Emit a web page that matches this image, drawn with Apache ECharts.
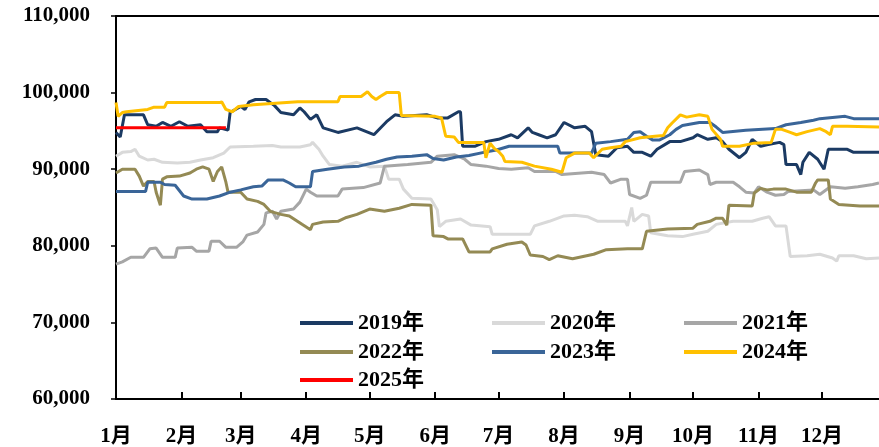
<!DOCTYPE html>
<html>
<head>
<meta charset="utf-8">
<script src="https://cdn.jsdelivr.net/npm/echarts@6/dist/echarts.min.js"></script>
<style>
  html, body { margin: 0; padding: 0; background: #fff; }
  #chart { width: 879px; height: 447px; }
</style>
</head>
<body>
<div id="chart"></div>
<script>
// Month labels and the day-of-year each month starts on
const monthLabels = ['1月','2月','3月','4月','5月','6月','7月','8月','9月','10月','11月','12月'];
const monthStarts = [0, 31, 59, 90, 120, 151, 181, 212, 243, 273, 304, 334];

// Y axis range and step
const yMin = 60000, yMax = 110000, yStep = 10000;

// Daily price series, [day of year, price]
const s2019 = [[0,94800],[2,94200],[4,97100],[13,97100],[15,95800],[19,95600],[22,96100],[26,95600],[30,96200],[34,95600],[40,95800],[43,94900],[48,94900],[49,95400],[53,95100],[54,97400],[59,98200],[61,97800],[63,98800],[66,99100],[71,99100],[75,98300],[78,97400],[84,97100],[87,98000],[89,97500],[92,96500],[95,97100],[98,95400],[105,94800],[114,95400],[122,94500],[128,96200],[132,97100],[136,96900],[147,97100],[152,96700],[157,96700],[162,97500],[163,97500],[164,93000],[170,93000],[175,93600],[181,93900],[187,94500],[190,94100],[195,95400],[197,94800],[200,94500],[204,94100],[208,94500],[212,96100],[217,95400],[222,95600],[225,94900],[227,91900],[233,91700],[237,92800],[242,93000],[245,92200],[249,92200],[253,91700],[256,92600],[262,93600],[267,93600],[273,94100],[275,94500],[280,93900],[284,94100],[287,93600],[290,92600],[295,91500],[298,92200],[301,93900],[305,93000],[308,93200],[314,93500],[316,93200],[317,90600],[322,90600],[324,89300],[325,90900],[328,92200],[332,91300],[335,90000],[337,92600],[346,92600],[349,92200],[361,92200]];

const s2020 = [[0,91700],[3,92200],[7,92300],[9,92600],[11,91700],[15,91200],[18,91300],[22,90900],[29,90800],[35,90900],[40,91200],[46,91500],[51,92100],[54,92900],[65,93000],[74,93100],[78,92900],[87,92900],[92,93200],[93,93500],[96,92600],[98,91700],[101,90600],[107,90400],[114,90900],[120,90300],[127,90400],[129,88700],[134,88700],[136,87400],[140,86200],[149,86100],[152,84700],[153,82500],[156,83200],[163,83500],[168,82700],[177,82500],[178,81500],[196,81500],[198,82600],[205,83200],[212,83900],[217,84000],[223,83800],[228,83200],[241,83200],[242,82600],[244,85000],[245,83200],[249,84100],[252,83900],[253,81700],[261,81300],[268,81200],[273,81500],[280,81900],[284,82800],[292,83200],[301,83200],[306,83600],[309,83800],[312,82600],[317,82600],[319,78600],[327,78700],[333,78900],[339,78400],[341,78000],[342,78700],[349,78700],[355,78300],[361,78400]];

const s2021 = [[0,77600],[3,77900],[7,78500],[13,78500],[16,79600],[19,79700],[22,78500],[28,78500],[29,79700],[36,79800],[38,79300],[44,79300],[45,80600],[49,80600],[52,79800],[57,79800],[60,80500],[62,81400],[67,81800],[70,82800],[71,84300],[74,84500],[76,83500],[78,84500],[84,84800],[87,85700],[90,87400],[92,87000],[95,86500],[105,86500],[107,87400],[117,87600],[125,88200],[127,90400],[138,90600],[149,90900],[152,91700],[160,91900],[165,91300],[168,90600],[175,90400],[181,90100],[187,90000],[195,90200],[198,89700],[208,89700],[211,89300],[225,89600],[231,89300],[234,88200],[239,88700],[242,88700],[243,86700],[248,86200],[251,86600],[253,88300],[267,88300],[269,89700],[276,89900],[280,89300],[281,88000],[284,88300],[292,88300],[295,87700],[298,87000],[302,86900],[304,87700],[308,87000],[312,86600],[316,86700],[318,87100],[330,87300],[333,86700],[338,87700],[345,87500],[351,87700],[358,88000],[361,88200]];

const s2022 = [[0,89500],[3,90000],[9,90000],[11,89100],[13,87800],[15,88400],[18,88400],[19,87000],[21,85300],[22,88700],[24,89000],[30,89100],[35,89500],[38,90000],[41,90300],[44,90000],[46,88400],[48,89700],[50,90300],[52,88300],[53,87000],[59,87000],[62,86100],[67,85800],[70,85400],[73,84500],[78,84100],[82,83900],[88,82800],[92,82100],[93,82800],[98,83100],[105,83200],[109,83700],[114,84100],[120,84800],[127,84500],[134,84900],[140,85400],[149,85300],[150,81300],[155,81200],[157,80900],[164,80900],[167,79200],[177,79200],[178,79600],[185,80200],[192,80500],[194,80100],[196,78800],[202,78600],[205,78200],[209,78700],[216,78300],[221,78600],[226,78900],[232,79500],[242,79600],[249,79600],[251,81900],[261,82200],[273,82300],[275,82800],[281,83200],[284,83600],[287,83600],[289,82700],[290,85300],[301,85200],[302,86900],[305,87500],[308,87300],[311,87400],[317,87400],[322,87000],[329,87000],[331,88200],[332,88600],[337,88600],[338,86100],[342,85400],[352,85200],[361,85200]];

const s2023 = [[0,87100],[14,87100],[15,88300],[21,88300],[23,88000],[28,87900],[32,86500],[36,86100],[43,86100],[49,86500],[54,87000],[59,87300],[65,87700],[69,87800],[72,88600],[75,88600],[79,88600],[82,88200],[85,87700],[92,87700],[93,89700],[100,90000],[108,90300],[115,90400],[123,90900],[128,91300],[133,91600],[140,91700],[147,91900],[150,91400],[155,91200],[161,91600],[167,91800],[174,92200],[180,92500],[186,93000],[196,93000],[209,93000],[210,92100],[225,92100],[227,93400],[234,93600],[242,93900],[245,94800],[248,94900],[251,94300],[254,93800],[257,93800],[262,94500],[265,95200],[268,95700],[276,96100],[281,96100],[284,95500],[287,94800],[298,95100],[312,95300],[317,95800],[324,96100],[330,96400],[333,96600],[345,96900],[349,96600],[361,96600]];

const s2024 = [[0,98700],[1,96900],[3,97400],[5,97500],[15,97800],[18,98100],[23,98100],[24,98700],[49,98700],[50,98800],[52,97800],[55,97500],[58,98200],[65,98400],[86,98800],[105,98800],[106,99500],[116,99500],[119,100100],[121,99500],[123,99100],[125,99500],[128,100000],[134,100000],[135,97000],[151,96900],[154,96700],[156,94300],[160,94200],[162,93500],[174,93500],[175,91500],[177,93400],[179,92700],[181,92300],[183,91700],[184,91000],[192,90900],[198,90400],[206,90000],[211,89600],[213,91500],[217,92100],[224,92100],[226,91500],[230,92600],[234,92800],[239,93000],[241,93600],[248,94100],[255,94300],[259,94400],[261,95400],[263,96000],[267,97100],[270,96800],[276,97100],[280,96900],[282,95200],[286,93900],[287,93000],[295,93000],[302,93400],[310,93500],[312,95200],[315,95200],[319,94800],[322,94500],[327,94900],[333,95300],[336,94900],[338,94500],[339,95600],[346,95600],[361,95500]];

const s2025 = [[0,95400],[10,95400],[20,95400],[30,95400],[40,95400],[52,95400]];

const seriesDefs = [
  { name: '2019年', data: s2019, color: '#1B3A63' },
  { name: '2020年', data: s2020, color: '#D9D9D9' },
  { name: '2021年', data: s2021, color: '#A6A6A6' },
  { name: '2022年', data: s2022, color: '#948A54' },
  { name: '2023年', data: s2023, color: '#3A6598' },
  { name: '2024年', data: s2024, color: '#FFC000' },
  { name: '2025年', data: s2025, color: '#FF0000' }
];

const FONT = "'Times New Roman', 'Liberation Serif', 'Noto Sans CJK SC', serif";

// One legend per row so the three columns line up
function legendRow(names, top) {
  return {
    data: names,
    left: 300,
    top: top,
    width: 700,
    padding: 0,
    orient: 'horizontal',
    icon: 'rect',
    itemWidth: 53,
    itemHeight: 4,
    itemGap: 14,
    selectedMode: false,
    textStyle: {
      fontFamily: FONT, fontWeight: 'bold', fontSize: 22, color: '#000',
      width: 120, lineHeight: 22
    }
  };
}

const chart = echarts.init(document.getElementById('chart'), null, { renderer: 'canvas' });

chart.setOption({
  animation: false,
  backgroundColor: '#fff',
  grid: { left: 116, top: 16, right: 0, bottom: 48, containLabel: false },
  legend: [
    legendRow(['2019年', '2020年', '2021年'], 312),
    legendRow(['2022年', '2023年', '2024年'], 341),
    legendRow(['2025年'], 369)
  ],
  xAxis: [
    {
      type: 'value',
      min: 0,
      max: 361,
      axisLine: { show: true, lineStyle: { color: '#000', width: 2 } },
      axisTick: { show: true, inside: true, length: 7, customValues: monthStarts.slice(1), lineStyle: { color: '#000', width: 2 } },
      axisLabel: {
        customValues: monthStarts,
        formatter: function (v) {
          const i = monthStarts.indexOf(Math.round(v));
          return i >= 0 ? monthLabels[i] : '';
        },
        margin: 27,
        fontFamily: FONT, fontWeight: 'bold', fontSize: 21, color: '#000'
      },
      splitLine: { show: false }
    },
    {
      type: 'value',
      position: 'top',
      min: 0,
      max: 361,
      axisLine: { show: true, lineStyle: { color: '#000', width: 2 } },
      axisTick: { show: false },
      axisLabel: { show: false },
      splitLine: { show: false }
    }
  ],
  yAxis: {
    type: 'value',
    min: yMin,
    max: yMax,
    interval: yStep,
    axisLine: { show: true, lineStyle: { color: '#000', width: 2 } },
    axisTick: { show: true, length: 5, lineStyle: { color: '#000', width: 1.5 } },
    axisLabel: {
      margin: 26,
      formatter: function (v) { return v.toLocaleString('en-US'); },
      fontFamily: FONT, fontWeight: 'bold', fontSize: 21, color: '#000'
    },
    splitLine: { show: false }
  },
  series: seriesDefs.map(function (d) {
    return {
      name: d.name,
      type: 'line',
      xAxisIndex: 0,
      data: d.data,
      symbol: 'none',
      lineStyle: { color: d.color, width: 3 },
      itemStyle: { color: d.color },
      emphasis: { disabled: true }
    };
  })
});
</script>
</body>
</html>
